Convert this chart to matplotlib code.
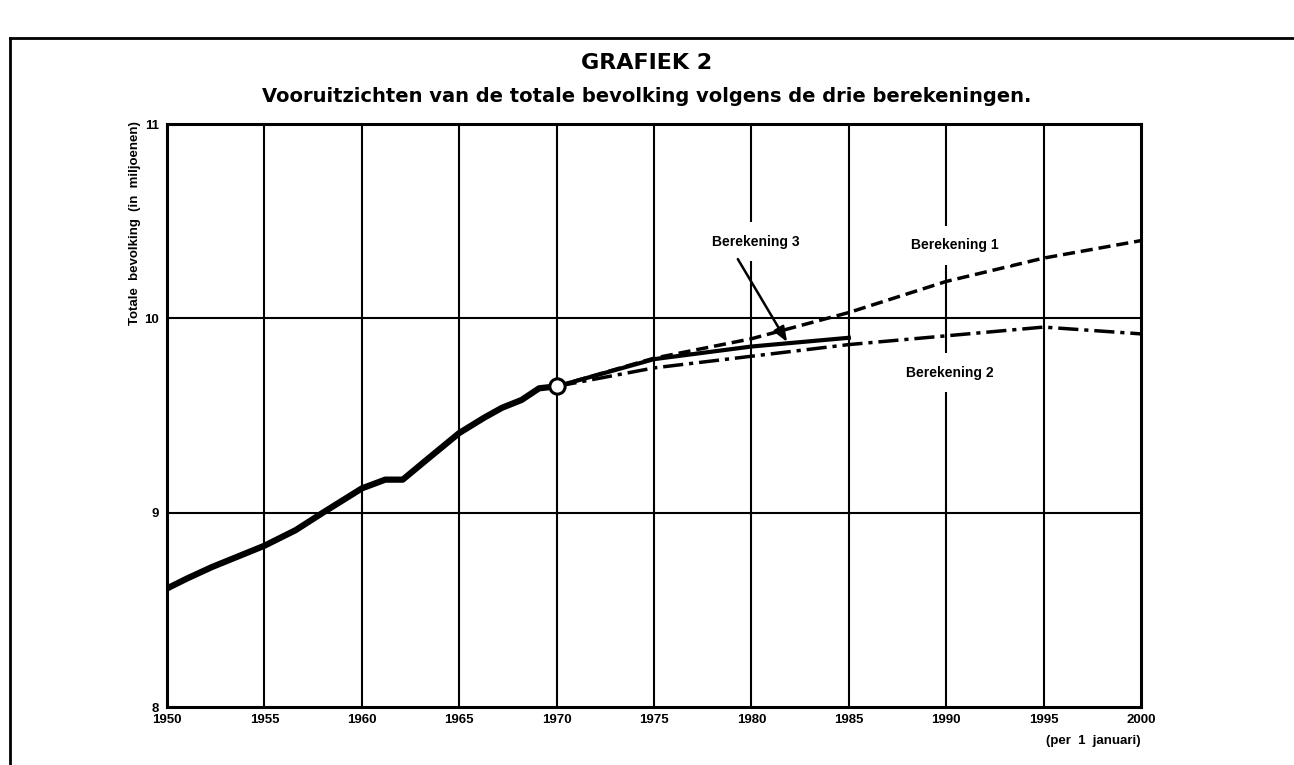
import matplotlib
matplotlib.use("Agg")
import matplotlib.pyplot as plt
from matplotlib.lines import Line2D

# waargenomen bevolking (miljoenen)
hist_years = [1950, 1951, 1952.3, 1955, 1956.6, 1958, 1960, 1961.2, 1962.1,
              1963.3, 1965, 1966.3, 1967.2, 1968.2, 1969.1, 1970]
hist_pop = [8.61, 8.66, 8.72, 8.83, 8.91, 9.00, 9.125, 9.17, 9.17,
            9.27, 9.41, 9.49, 9.54, 9.58, 9.64, 9.65]

# berekeningen
ber1_years = [1970, 1975, 1980, 1985, 1990, 1995, 2000]
ber1_pop = [9.65, 9.795, 9.895, 10.03, 10.19, 10.31, 10.40]
ber2_years = [1970, 1975, 1980, 1985, 1990, 1995, 2000]
ber2_pop = [9.65, 9.745, 9.805, 9.865, 9.91, 9.955, 9.92]
ber3_years = [1970, 1975, 1980, 1985]
ber3_pop = [9.65, 9.79, 9.855, 9.90]

xticks = list(range(1950, 2001, 5))
yticks = [8, 9, 10, 11]

plt.rcParams['font.family'] = ['Liberation Sans', 'DejaVu Sans']

fig = plt.figure(figsize=(12.94, 7.65), dpi=100)
ax = fig.add_axes([0.1291, 0.0758, 0.7527, 0.7621])

for x in xticks[1:-1]:
    ax.axvline(x, color='black', lw=1.5, zorder=1)
for y in yticks[1:-1]:
    ax.axhline(y, color='black', lw=1.5, zorder=1)

ax.plot(hist_years, hist_pop, color='black', lw=4.5, solid_capstyle='butt', zorder=4)
ax.plot(ber1_years, ber1_pop, color='black', lw=2.5, dashes=(3.5, 1.7), zorder=3)
ax.plot(ber2_years, ber2_pop, color='black', lw=2.5, dashes=(5.8, 1.7, 1.2, 1.7), zorder=3)
ax.plot(ber3_years, ber3_pop, color='black', lw=3.0, zorder=3)
ax.plot([hist_years[-1]], [hist_pop[-1]], 'o', ms=11, mfc='white', mec='black',
        mew=2.2, zorder=6)

box = dict(boxstyle='square,pad=0.9', fc='white', ec='none')
ax.text(1980.2, 10.393, 'Berekening 3', ha='center', va='center', fontsize=10,
        fontweight='bold', bbox=box, zorder=5)
ax.text(1990.45, 10.377, 'Berekening 1', ha='center', va='center', fontsize=10,
        fontweight='bold', bbox=box, zorder=5)
ax.text(1990.2, 9.719, 'Berekening 2', ha='center', va='center', fontsize=10,
        fontweight='bold', bbox=box, zorder=5)
ax.annotate('', xy=(1981.83, 9.878), xytext=(1979.3, 10.305),
            arrowprops=dict(arrowstyle='-|>,head_length=0.9,head_width=0.35',
                            color='black', lw=1.8, connectionstyle='arc3,rad=0.0',
                            shrinkA=0, shrinkB=0), zorder=6)

ax.set_xlim(1950, 2000)
ax.set_ylim(8, 11)
ax.set_xticks(xticks)
ax.set_yticks(yticks)
ax.tick_params(length=0, labelsize=9.5)
ax.tick_params(axis='x', pad=5)
ax.tick_params(axis='y', pad=6)
for lab in ax.get_xticklabels() + ax.get_yticklabels():
    lab.set_fontweight('bold')
for sp in ax.spines.values():
    sp.set_linewidth(2.2)

ax.set_ylabel('Totale  bevolking  (in  miljoenen)', fontsize=9.5, fontweight='bold')
ax.yaxis.set_label_coords(-0.027, 0.83)

ax.text(1.0, -0.048, '(per  1  januari)', transform=ax.transAxes, ha='right', va='top',
        fontsize=9.5, fontweight='bold')

fig.text(0.5, 0.918, 'GRAFIEK 2', ha='center', va='center', fontsize=16,
         fontweight='bold', family='DejaVu Sans')
fig.text(0.5, 0.874, 'Vooruitzichten van de totale bevolking volgens de drie berekeningen.',
         ha='center', va='center', fontsize=14, fontweight='bold', family='DejaVu Sans')

# kader om de figuur
fig.add_artist(Line2D([10 / 1294, 1], [1 - 38 / 765, 1 - 38 / 765], color='black', lw=2))
fig.add_artist(Line2D([10 / 1294, 10 / 1294], [0, 1 - 38 / 765], color='black', lw=2))

fig.savefig('out.png', dpi=100)
